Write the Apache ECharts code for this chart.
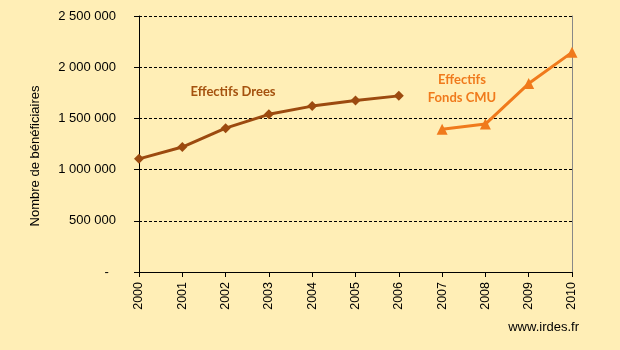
<!DOCTYPE html>
<html><head><meta charset="utf-8">
<script src="https://cdn.jsdelivr.net/npm/echarts@6/dist/echarts.min.js"></script>
<style>html,body{margin:0;padding:0;background:#FFEEB6;}#c{width:620px;height:350px;}</style>
</head><body><div id="c"></div>
<script>
var years = ['2000','2001','2002','2003','2004','2005','2006','2007','2008','2009','2010'];
var drees = [1105000, 1220000, 1405000, 1540000, 1620000, 1675000, 1720000, null, null, null, null];
var fondsCmu = [null, null, null, null, null, null, null, 1395000, 1445000, 1840000, 2145000];
var yTicks = [0, 500000, 1000000, 1500000, 2000000, 2500000];

function fmt(v){
  if (v === 0) return '-  ';
  return String(v).replace(/\B(?=(\d{3})+(?!\d))/g, ' ');
}
var chart = echarts.init(document.getElementById('c'));
chart.setOption({
  backgroundColor: '#FFEEB6',
  animation: false,
  textStyle: {fontFamily: 'Liberation Sans, Arial, sans-serif'},
  grid: {left: 139, right: 48, top: 16, bottom: 78},
  xAxis: {
    type: 'category', data: years, boundaryGap: false,
    axisLine: {lineStyle: {color: '#000', width: 1}},
    axisTick: {show: true, length: 5, lineStyle: {color: '#000'}},
    axisLabel: {rotate: 90, margin: 10, fontSize: 12.5, color: '#000', fontFamily: 'Liberation Sans, Arial'},
    splitLine: {show: false}
  },
  yAxis: [{
    type: 'value', min: 0, max: 2500000, interval: 500000,
    axisLine: {show: true, lineStyle: {color: '#000', width: 1}},
    axisTick: {show: true, length: 5, lineStyle: {color: '#000'}},
    axisLabel: {formatter: fmt, margin: 23, fontSize: 13, color: '#000', fontFamily: 'Liberation Sans, Arial'},
    splitLine: {show: true, lineStyle: {color: '#000', type: [3, 2], width: 1}}
  }, {
    type: 'value', min: 0, max: 2500000, interval: 500000, position: 'right',
    axisLine: {show: true, lineStyle: {color: '#888', width: 1}},
    axisTick: {show: false}, axisLabel: {show: false}, splitLine: {show: false}
  }],
  series: [{
    name: 'Effectifs Drees', type: 'line', data: drees,
    symbol: 'diamond', symbolSize: 10,
    lineStyle: {color: '#9C4A0F', width: 3},
    itemStyle: {color: '#9C4A0F'}
  }, {
    name: 'Effectifs Fonds CMU', type: 'line', data: fondsCmu,
    symbol: 'triangle', symbolSize: 11,
    lineStyle: {color: '#F07A1C', width: 3},
    itemStyle: {color: '#F07A1C'}
  }],
  graphic: [
    {type: 'text', x: 35, y: 156, rotation: Math.PI/2,
     style: {text: 'Nombre de bénéficiaires', fill: '#000', font: '13px Liberation Sans, Arial', textAlign: 'center', textVerticalAlign: 'middle'}},
    {type: 'text', x: 233, y: 92,
     style: {text: 'Effectifs Drees', fill: '#A5520F', font: 'bold 13px Lato, sans-serif', textAlign: 'center', textVerticalAlign: 'middle'}},
    {type: 'text', x: 462, y: 80,
     style: {text: 'Effectifs', fill: '#F07A1C', font: 'bold 13px Lato, sans-serif', textAlign: 'center', textVerticalAlign: 'middle'}},
    {type: 'text', x: 462, y: 98,
     style: {text: 'Fonds CMU', fill: '#F07A1C', font: 'bold 13px Lato, sans-serif', textAlign: 'center', textVerticalAlign: 'middle'}},
    {type: 'text', x: 579, y: 327,
     style: {text: 'www.irdes.fr', fill: '#000', font: '13px Liberation Sans, Arial', textAlign: 'right', textVerticalAlign: 'middle'}}
  ]
});
</script></body></html>
